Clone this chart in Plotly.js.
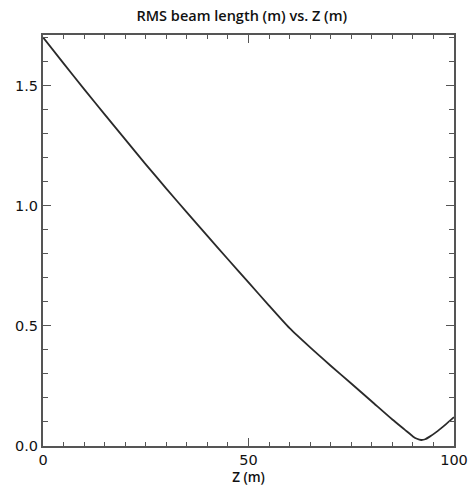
<!DOCTYPE html>
<html>
<head>
<meta charset="utf-8">
<script src="https://cdn.plot.ly/plotly-3.0.1.min.js"></script>
<style>html,body{margin:0;padding:0;background:#fff;}#chart{width:476px;height:491px;}</style>
</head>
<body>
<div id="chart"></div>
<script>
const zPos = [0, 5, 10, 15, 20, 25, 30, 35, 40, 45, 50, 55, 60, 65, 70, 75, 80, 85, 88, 90, 91, 92, 93, 94, 96, 98, 100];
const rmsLength = [1.70, 1.592, 1.485, 1.38, 1.276, 1.172, 1.071, 0.972, 0.874, 0.777, 0.681, 0.584, 0.49, 0.41, 0.334, 0.26, 0.185, 0.11, 0.068, 0.04, 0.03, 0.025, 0.028, 0.038, 0.062, 0.09, 0.12];
const xTickVals = [0, 50, 100];
const yTickVals = [0, 0.5, 1.0, 1.5];

const axisColor = '#555';
const tickFont = {family: 'DejaVu Sans, sans-serif', size: 14.5, color: '#111'};
const titleFont = {family: 'Open Sans, Noto Sans, sans-serif', size: 14.5, color: '#111', weight: 600};
const xTitleFont = {family: 'Open Sans, Noto Sans, sans-serif', size: 13.5, color: '#111', weight: 600};

Plotly.newPlot('chart', [{
  x: zPos, y: rmsLength, type: 'scatter', mode: 'lines',
  line: {color: '#2a2a2a', width: 1.8, shape: 'spline', smoothing: 0.6},
  hoverinfo: 'none'
}], {
  width: 476, height: 491,
  margin: {l: 43, r: 22, t: 35, b: 45},
  paper_bgcolor: '#fff', plot_bgcolor: '#fff',
  showlegend: false,
  title: {text: 'RMS beam length (m) vs. Z (m)', x: 0.508, xanchor: 'center', y: 0.968, yanchor: 'middle',
          font: titleFont},
  xaxis: {
    range: [0, 100], tickvals: xTickVals, ticktext: xTickVals.map(String),
    ticks: 'inside', ticklen: 8, tickwidth: 1.2, tickcolor: axisColor,
    minor: {dtick: 5, tick0: 0, ticks: 'inside', ticklen: 4, tickcolor: axisColor, tickwidth: 1},
    showline: true, linecolor: axisColor, linewidth: 2, mirror: 'ticks',
    showgrid: false, zeroline: false, tickfont: tickFont,
    title: {text: 'Z (m)', standoff: 0, font: xTitleFont}
  },
  yaxis: {
    range: [0, 1.71], tickvals: yTickVals, tickformat: '.1f',
    ticks: 'inside', ticklen: 8, tickwidth: 1.2, tickcolor: axisColor,
    minor: {dtick: 0.1, tick0: 0, ticks: 'inside', ticklen: 5, tickcolor: axisColor, tickwidth: 1},
    showline: true, linecolor: axisColor, linewidth: 2, mirror: 'ticks',
    showgrid: false, zeroline: false, tickfont: tickFont
  }
}, {staticPlot: true});
</script>
</body>
</html>
